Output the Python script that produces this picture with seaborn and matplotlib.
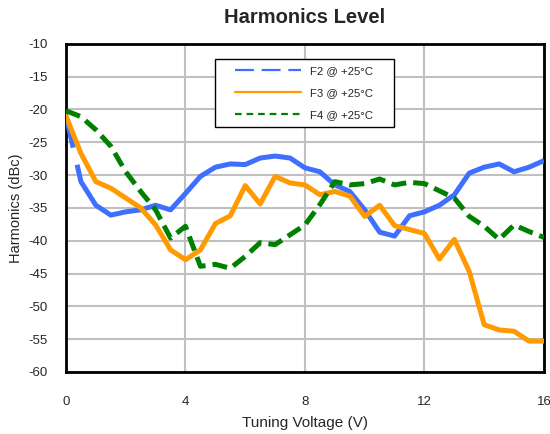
import numpy as np
import pandas as pd
import matplotlib
matplotlib.use("Agg")
import matplotlib.pyplot as plt
from matplotlib.lines import Line2D
from matplotlib.patches import Rectangle
import seaborn as sns

# tuning voltage steps (V)
volts = [0, 0.5, 1, 1.5, 2, 2.5, 3, 3.5, 4, 4.5, 5, 5.5, 6, 6.5, 7, 7.5, 8,
         8.5, 9, 9.5, 10, 10.5, 11, 11.5, 12, 12.5, 13, 13.5, 14, 14.5, 15, 15.5, 16]

f2 = [-21.0, -31.0, -34.6, -36.1, -35.6, -35.3, -34.6, -35.3, -32.8, -30.2, -28.8, -28.3, -28.4,
      -27.4, -27.1, -27.4, -28.9, -29.5, -31.5, -32.5, -35.3, -38.7, -39.3, -36.2, -35.6,
      -34.6, -33.0, -29.7, -28.8, -28.3, -29.5, -28.8, -27.8]
f3 = [-21.0, -26.7, -31.0, -32.0, -33.5, -35.0, -37.6, -41.4, -42.9, -41.4, -37.4, -36.2, -31.6,
      -34.4, -30.2, -31.2, -31.5, -33.0, -32.5, -33.2, -36.3, -34.6, -37.7, -38.3, -38.9,
      -42.8, -39.8, -44.7, -52.8, -53.6, -53.8, -55.3, -55.3]
f4 = [-20.2, -21.1, -23.1, -25.6, -29.5, -32.5, -35.3, -39.6, -37.8, -43.9, -43.6, -44.2, -42.4,
      -40.3, -40.6, -39.1, -37.6, -34.5, -31.0, -31.5, -31.3, -30.6, -31.5, -31.1, -31.3,
      -32.4, -33.5, -36.3, -37.8, -39.8, -37.6, -38.6, -39.5]

series_names = ["F2 @ +25°C", "F3 @ +25°C", "F4 @ +25°C"]

sns.set_style("white")
plt.rcParams['font.family'] = ['Liberation Sans', 'DejaVu Sans']
plt.rcParams['axes.unicode_minus'] = False

fig, ax = plt.subplots(figsize=(5.5, 4.34), dpi=100)
fig.subplots_adjust(left=0.12, right=0.989, top=0.899, bottom=0.143)

blue = "#3F6FFF"
orange = "#FF9A00"
green = "#008000"

sns.lineplot(x=volts, y=f2, ax=ax, color=blue, linewidth=3.6,
             linestyle=(0, (6.5, 3.5, 500, 1)), zorder=3)
sns.lineplot(x=volts, y=f3, ax=ax, color=orange, linewidth=3.6, zorder=3)
sns.lineplot(x=volts, y=f4, ax=ax, color=green, linewidth=3.6,
             linestyle=(0, (3.0, 1.4)), zorder=3)

ax.set_xlim(0, 16)
ax.set_ylim(-60, -10)
ax.set_xticks([0, 4, 8, 12, 16])
ax.set_yticks(np.arange(-60, -9, 5))
ax.grid(True, color="#c0c0c0", linewidth=1.5)
ax.set_axisbelow(True)
for s in ax.spines.values():
    s.set_color("black")
    s.set_linewidth(2)
ax.tick_params(axis="both", direction="out", length=3, width=1.5, color="black",
               labelsize=9.5)
ax.tick_params(axis="x", pad=14)
ax.tick_params(axis="y", pad=10)

ax.set_title("Harmonics Level", fontsize=14.5, fontweight="bold", pad=15)
ax.set_xlabel("Tuning Voltage (V)", fontsize=11, labelpad=6)
ax.set_ylabel("Harmonics (dBc)", fontsize=10.5, labelpad=4)

handles = [
    Line2D([], [], color=blue, linewidth=1.6, linestyle=(0, (8.5, 3.5))),
    Line2D([], [], color=orange, linewidth=1.6),
    Line2D([], [], color=green, linewidth=1.6, linestyle=(0, (3, 2.2))),
]
leg = ax.legend(handles, series_names, loc="upper left", bbox_to_anchor=(0.354, 0.933),
                fontsize=8.2, frameon=False, borderpad=0, borderaxespad=0,
                handlelength=5.8, labelspacing=1.08, handletextpad=0.8)
leg.set_zorder(6)

# legend frame drawn by hand: wider side padding than top/bottom
fig.canvas.draw()
bb = leg.get_window_extent(fig.canvas.get_renderer())
inv = fig.transFigure.inverted()
(x0, y0) = inv.transform((bb.x0 - 20, bb.y0 - 7))
(x1, y1) = inv.transform((bb.x1 + 21, bb.y1 + 7))
ax.add_artist(Rectangle((x0, y0), x1 - x0, y1 - y0, transform=fig.transFigure,
                        facecolor="white", edgecolor="black", linewidth=1,
                        zorder=5, clip_on=False))

fig.savefig("out.png", dpi=100)
